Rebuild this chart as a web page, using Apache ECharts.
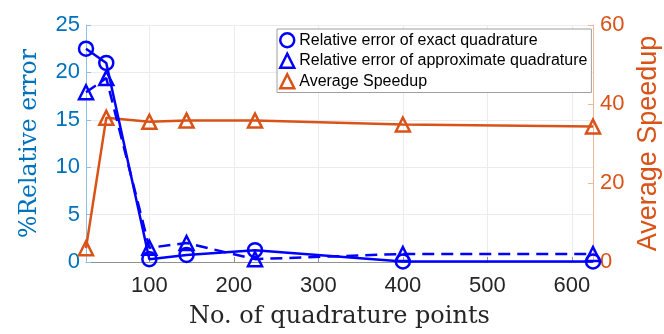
<!DOCTYPE html>
<html>
<head>
<meta charset="utf-8">
<script src="https://cdn.jsdelivr.net/npm/echarts@6/dist/echarts.min.js"></script>
<style>
html,body{margin:0;padding:0;background:#fff;}
#chart{width:664px;height:334px;}
</style>
</head>
<body>
<div id="chart"></div>
<script>
// quadrature points
var quadPoints = [25, 49, 100, 144, 225, 400, 625];
// % relative error
var errExact = [22.5, 21.0, 0.3, 0.75, 1.25, 0.05, 0.05];
var errApprox = [17.9, 19.4, 1.5, 2.0, 0.3, 0.85, 0.85];
// speedup
var speedup = [3.5, 36.5, 35.5, 35.8, 35.8, 34.8, 34.3];
var xTicks = [100, 200, 300, 400, 500, 600];

var BLUE = '#0000ff', ORANGE = '#d95319', AXBLUE = '#0072bd';

function pairs(ys) {
    return quadPoints.map(function (x, i) { return [x, ys[i]]; });
}

var chart = echarts.init(document.getElementById('chart'));
var option = {
    animation: false,
    backgroundColor: '#fff',
    grid: { left: 86, right: 71, top: 25, bottom: 72, outerBoundsMode: 'none' },
    legend: {
        orient: 'vertical',
        left: 277, top: 29,
        itemWidth: 14, itemHeight: 14, itemGap: 4,
        padding: [3, 4, 3, 2],
        backgroundColor: '#fff',
        borderColor: '#a0a0a0', borderWidth: 1, borderRadius: 0,
        textStyle: { fontFamily: 'Liberation Sans', fontSize: 16, color: '#000' },
        data: [
            { name: 'Relative error of exact quadrature', icon: 'circle',
              itemStyle: { color: 'rgba(0,0,0,0)', borderColor: BLUE, borderWidth: 2.5 } },
            { name: 'Relative error of approximate quadrature', icon: 'triangle',
              itemStyle: { color: 'rgba(0,0,0,0)', borderColor: BLUE, borderWidth: 2.5 } },
            { name: 'Average Speedup', icon: 'triangle',
              itemStyle: { color: 'rgba(0,0,0,0)', borderColor: ORANGE, borderWidth: 2.5 } }
        ]
    },
    xAxis: {
        type: 'value', min: 25, max: 625,
        name: 'No. of quadrature points', nameLocation: 'middle', nameGap: 43,
        nameTextStyle: { fontFamily: 'DejaVu Serif', fontSize: 24, color: '#262626' },
        axisLine: { show: true, lineStyle: { color: '#909090', width: 1 } },
        axisTick: { show: true, inside: true, length: 5, customValues: xTicks, lineStyle: { color: '#909090' } },
        axisLabel: { customValues: xTicks, margin: 13, fontFamily: 'Liberation Sans', fontSize: 22, color: '#262626' },
        splitLine: { show: true, lineStyle: { color: '#ececec', width: 1 } }
    },
    yAxis: [{
        type: 'value', min: 0, max: 25, interval: 5,
        name: '%Relative error', nameLocation: 'middle', nameGap: 44,
        nameTextStyle: { fontFamily: 'DejaVu Serif', fontSize: 23.5, color: AXBLUE },
        axisLine: { show: true, lineStyle: { color: '#8ec1e6', width: 1 } },
        axisTick: { show: true, inside: true, length: 5, lineStyle: { color: '#8ec1e6' } },
        axisLabel: { margin: 6, fontFamily: 'Liberation Sans', fontSize: 22, color: AXBLUE },
        splitLine: { show: true, lineStyle: { color: '#ececec', width: 1 } }
    }, {
        type: 'value', min: 0, max: 60, interval: 20, position: 'right',
        name: 'Average Speedup', nameLocation: 'middle', nameGap: 41,
        nameTextStyle: { fontFamily: 'Liberation Sans', fontSize: 27, color: ORANGE },
        axisLine: { show: true, lineStyle: { color: '#f0b49a', width: 1 } },
        axisTick: { show: true, inside: true, length: 5, lineStyle: { color: '#f0b49a' } },
        axisLabel: { margin: 7, fontFamily: 'Liberation Sans', fontSize: 22, color: ORANGE },
        splitLine: { show: false }
    }],
    series: [{
        name: 'Relative error of exact quadrature',
        type: 'line', yAxisIndex: 0, z: 5,
        data: pairs(errExact),
        symbol: 'circle', symbolSize: 14,
        itemStyle: { color: 'rgba(0,0,0,0)', borderColor: BLUE, borderWidth: 2.5 },
        lineStyle: { color: BLUE, width: 2.5 }
    }, {
        name: 'Relative error of approximate quadrature',
        type: 'line', yAxisIndex: 0, z: 4,
        data: pairs(errApprox),
        symbol: 'triangle', symbolSize: 14,
        itemStyle: { color: 'rgba(0,0,0,0)', borderColor: BLUE, borderWidth: 2.5 },
        lineStyle: { color: BLUE, width: 2.5, type: [12, 7] }
    }, {
        name: 'Average Speedup',
        type: 'line', yAxisIndex: 1, z: 3,
        data: pairs(speedup),
        symbol: 'triangle', symbolSize: 14,
        itemStyle: { color: 'rgba(0,0,0,0)', borderColor: ORANGE, borderWidth: 2.5 },
        lineStyle: { color: ORANGE, width: 2.5 }
    }]
};
chart.setOption(option);
</script>
</body>
</html>
